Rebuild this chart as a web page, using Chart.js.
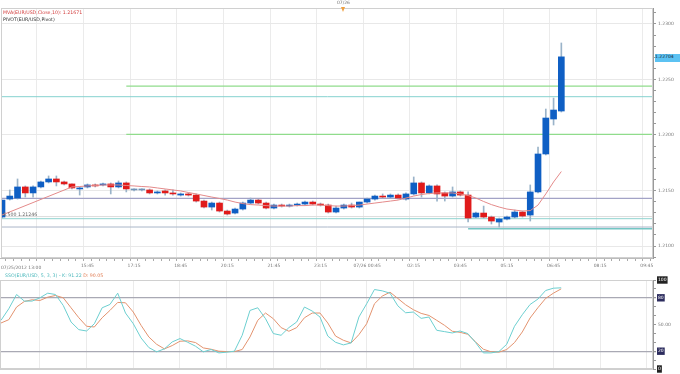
<!DOCTYPE html>
<html><head><meta charset="utf-8">
<script src="https://cdn.jsdelivr.net/npm/chart.js@4/dist/chart.umd.min.js"></script>
<style>
html,body{margin:0;padding:0;background:#fff;width:680px;height:374px;overflow:hidden}
#wrap{position:relative;width:680px;height:374px;font-family:"DejaVu Sans",sans-serif}
canvas{position:absolute;left:0}
.t{position:absolute;white-space:nowrap;line-height:1;font-size:4.7px}
</style></head><body>
<div id="wrap">
<canvas id="main" width="680" height="276" style="top:0"></canvas>
<canvas id="osc" width="680" height="104" style="top:270px"></canvas>
<div class="t" style="left:3px;top:11px;color:#d23c3c">MVA(EUR/USD,Close,10): 1.21671</div>
<div class="t" style="left:3px;top:18px;color:#333">PIVOT(EUR/USD,Pivot)</div>
<div class="t" style="left:1px;top:266px;color:#777;font-size:4.5px">07/25/2012 13:00</div>
<div class="t" style="left:3px;top:213px;color:#666">S.500 1.21246</div>
<div class="t" style="left:337px;top:1px;color:#777;font-size:4.5px">07/26</div>
<div style="position:absolute;left:341px;top:7px;width:0;height:0;border-left:2.5px solid transparent;border-right:2.5px solid transparent;border-top:5px solid #f0a040"></div>
<div class="t" style="left:655px;top:54px;width:25px;height:7px;background:#5cc2f2;color:#123;font-size:4.5px;padding-top:1px">1.22704</div>
<div class="t" style="left:5px;top:274px;font-size:4.7px"><span style="color:#4cb8bc">SSO(EUR/USD, 5, 3, 3) - K: 91.22</span> <span style="color:#e07a50">D: 90.05</span></div>
</div>
<script>
// ---- data (15-minute bars starting 07/25/2012 13:00) ----
const openP  = [1.21261,1.21423,1.21432,1.21532,1.21478,1.21532,1.21577,1.21604,1.21577,1.21559,
                1.21514,1.21532,1.21550,1.21550,1.21559,1.21532,1.21568,1.21505,1.21505,1.21505,
                1.21478,1.21496,1.21478,1.21459,1.21469,1.21459,1.21405,1.21351,1.21387,1.21315,
                1.21297,1.21333,1.21387,1.21414,1.21387,1.21342,1.21369,1.21360,1.21369,1.21378,
                1.21396,1.21378,1.21369,1.21306,1.21342,1.21369,1.21351,1.21396,1.21423,1.21450,
                1.21441,1.21459,1.21423,1.21469,1.21568,1.21478,1.21541,1.21478,1.21450,1.21487,
                1.21459,1.21261,1.21297,1.21261,1.21216,1.21243,1.21261,1.21306,1.21279,1.21487,
                1.21829,1.22144,1.22216];
const highP  = [1.21414,1.21505,1.21604,1.21541,1.21541,1.21586,1.21631,1.21631,1.21586,1.21559,
                1.21532,1.21559,1.21559,1.21568,1.21568,1.21586,1.21577,1.21514,1.21514,1.21514,
                1.21496,1.21505,1.21505,1.21478,1.21478,1.21469,1.21414,1.21396,1.21396,1.21324,
                1.21342,1.21396,1.21432,1.21423,1.21396,1.21378,1.21378,1.21378,1.21387,1.21405,
                1.21405,1.21387,1.21378,1.21360,1.21378,1.21387,1.21396,1.21432,1.21459,1.21469,
                1.21469,1.21469,1.21478,1.21622,1.21577,1.21550,1.21550,1.21487,1.21532,1.21496,
                1.21487,1.21306,1.21360,1.21270,1.21252,1.21270,1.21324,1.21315,1.21550,1.21892,
                1.22234,1.22333,1.22829];
const lowP   = [1.21252,1.21414,1.21423,1.21441,1.21441,1.21523,1.21568,1.21541,1.21550,1.21514,
                1.21459,1.21523,1.21532,1.21541,1.21469,1.21523,1.21487,1.21496,1.21496,1.21469,
                1.21469,1.21459,1.21459,1.21450,1.21450,1.21396,1.21342,1.21324,1.21306,1.21279,
                1.21288,1.21324,1.21378,1.21378,1.21333,1.21333,1.21351,1.21351,1.21360,1.21369,
                1.21369,1.21360,1.21297,1.21297,1.21333,1.21342,1.21342,1.21387,1.21414,1.21432,
                1.21432,1.21423,1.21414,1.21459,1.21441,1.21469,1.21405,1.21405,1.21441,1.21450,
                1.21216,1.21252,1.21252,1.21198,1.21171,1.21234,1.21252,1.21261,1.21225,1.21478,
                1.21820,1.22090,1.22207];
const closeP = [1.21414,1.21450,1.21532,1.21478,1.21532,1.21577,1.21604,1.21577,1.21559,1.21523,
                1.21523,1.21550,1.21541,1.21559,1.21532,1.21568,1.21514,1.21505,1.21505,1.21478,
                1.21487,1.21478,1.21469,1.21469,1.21459,1.21405,1.21351,1.21387,1.21315,1.21288,
                1.21333,1.21387,1.21414,1.21387,1.21342,1.21369,1.21360,1.21369,1.21378,1.21396,
                1.21378,1.21369,1.21306,1.21342,1.21369,1.21351,1.21396,1.21423,1.21450,1.21441,
                1.21459,1.21432,1.21469,1.21568,1.21478,1.21541,1.21469,1.21450,1.21487,1.21459,
                1.21252,1.21297,1.21261,1.21225,1.21243,1.21261,1.21306,1.21270,1.21487,1.21829,
                1.22153,1.22225,1.22704];
// 10-period moving average (first value, then from bar 9 onward)
const maBars   = [0, 9,10,11,12,13,14,15,16,17,18,19,20,21,22,23,24,25,26,27,28,29,30,31,32,33,34,35,36,37,38,39,40,41,42,43,44,45,46,47,48,49,50,51,52,53,54,55,56,57,58,59,60,61,62,63,64,65,66,67,68,69,70,71,72];
const maValues = [1.21279,1.21532,1.21536,1.21541,1.21545,1.21550,1.21550,1.21550,1.21545,1.21541,1.21536,1.21532,1.21523,1.21514,1.21505,1.21496,1.21482,1.21469,1.21455,1.21441,1.21428,1.21414,1.21396,1.21382,1.21373,1.21369,1.21364,1.21360,1.21360,1.21360,1.21364,1.21364,1.21369,1.21369,1.21364,1.21360,1.21360,1.21364,1.21369,1.21378,1.21387,1.21396,1.21405,1.21414,1.21432,1.21450,1.21464,1.21473,1.21478,1.21478,1.21478,1.21469,1.21455,1.21432,1.21401,1.21373,1.21351,1.21333,1.21324,1.21315,1.21319,1.21369,1.21469,1.21577,1.21671];
// pivot levels and the bar each starts from
const pivotLevels = [1.22441,1.22345,1.22006,1.21430,1.21265,1.21246,1.21171,1.21156];
const pivotStart  = [16,0,16,0,0,0,0,60];
// slow stochastic %K and %D
const stochK = [54.7,67.7,83.7,76.3,76.3,80.0,85.2,83.7,71.4,52.8,44.2,42.7,50.9,68.8,72.5,85.2,62.9,50.9,34.9,24.1,
                19.3,22.6,30.4,34.2,30.0,25.6,19.3,21.9,18.1,18.9,20.0,37.9,65.8,68.8,56.5,39.8,37.9,46.5,52.8,69.6,
                65.1,58.4,37.0,30.0,27.1,29.3,58.4,73.3,89.3,87.8,85.2,71.0,63.2,64.0,56.9,58.4,43.5,42.0,40.5,42.7,
                39.8,29.7,18.1,18.1,19.6,27.8,48.0,61.0,72.5,78.5,88.2,90.8,91.22];
const stochD = [51.7,55.4,69.6,75.9,77.8,77.0,80.7,82.6,80.0,68.8,57.6,48.0,47.2,57.6,65.8,74.8,74.4,64.0,49.1,36.0,
                27.8,22.6,26.3,31.2,31.6,29.7,23.7,22.2,20.0,19.6,19.6,21.9,36.0,54.7,62.9,56.5,46.5,42.4,46.5,57.6,
                62.9,62.9,51.7,37.0,32.3,29.3,38.6,50.9,73.3,81.9,86.3,79.3,72.2,66.6,62.5,60.2,54.7,49.1,42.4,41.2,
                39.0,30.4,22.2,19.3,18.9,21.9,29.7,41.6,57.3,68.8,79.3,85.2,90.05];
// axis labels
const priceTicks = [1.2100,1.2150,1.2200,1.2250,1.2300];
const timeTickBars   = [11,17,23,29,35,41,47,53,59,65,71,77,83];
const timeTickLabels = ['15:45','17:15','18:45','20:15','21:45','23:15','07/26 00:45','02:15','03:45','05:15','06:45','08:15','09:45'];
const stochTicks = [0,20,50,80,100];

// ---- rendering ----
const FONT = 'DejaVu Sans';
const X_MIN = -0.13, X_MAX = 83.8, LAST_TICK = 83;
const isMajorBar = v => (Math.round(v) - 5) % 6 === 0;
const BLUE = '#0f5fc4', RED = '#e01b1b', DOJI = '#6f93b8';
const PIVOT_COLORS = ['#90dc8c','#86d2cf','#90dc8c','#a3a3c6','#dcdcdc','#8fd3cf','#aab6c8','#74c6c4'];
const PIVOT_WIDTHS = [1.2,1,1.2,1.3,1,1,1,1.4];

const frame = {
  id: 'frame',
  afterDraw(chart) {
    const a = chart.chartArea, c = chart.ctx;
    c.save(); c.strokeStyle = '#d0d0d0'; c.lineWidth = 1;
    c.strokeRect(a.left + 0.5, a.top + 0.5, a.right - a.left - 1, a.bottom - a.top - 1);
    c.restore();
  }
};

const xScale = (showLabels) => ({
  type: 'linear', min: X_MIN, max: X_MAX, offset: false,
  afterBuildTicks: s => { const t = []; for (let i = 0; i <= LAST_TICK; i++) t.push({value: i}); s.ticks = t; },
  afterFit: s => { s.height = showLabels ? 18 : 0; },
  ticks: {
    display: showLabels, autoSkip: false, maxRotation: 0, minRotation: 0, padding: 2,
    color: '#777', font: {family: FONT, size: 4.5},
    callback: v => { const k = timeTickBars.indexOf(Math.round(v)); return k >= 0 ? timeTickLabels[k] : ''; }
  },
  grid: {
    color: c => (c.tick && isMajorBar(c.tick.value)) ? '#ebebeb' : 'rgba(0,0,0,0)',
    tickColor: '#aaa', tickLength: 3, drawTicks: showLabels
  },
  border: {display: showLabels, color: '#bbb'}
});

const barsX = closeP.map((_, i) => i);
const priceMin = 1.20892, priceMax = 1.23144;

new Chart(document.getElementById('main'), {
  type: 'bar',
  data: { datasets: [
    { type: 'line', order: 0, data: maBars.map((b, k) => ({x: b, y: maValues[k]})),
      borderColor: '#e48a8a', borderWidth: 1, pointRadius: 0, tension: 0, spanGaps: true },
    { type: 'bar', order: 1, grouped: false, barThickness: 6, minBarLength: 1,
      data: barsX.map(i => ({x: i, y: [openP[i], closeP[i]]})),
      backgroundColor: c => { const i = c.dataIndex; return closeP[i] > openP[i] ? BLUE : (closeP[i] < openP[i] ? RED : DOJI); },
      borderWidth: 0 },
    { type: 'bar', order: 2, grouped: false, barThickness: 1,
      data: barsX.map(i => ({x: i, y: [lowP[i], highP[i]]})),
      backgroundColor: '#9ab3c9', borderWidth: 0 },
    ...pivotLevels.map((lv, k) => ({
      type: 'line', order: 3, data: [{x: pivotStart[k], y: lv}, {x: X_MAX, y: lv}],
      borderColor: PIVOT_COLORS[k], borderWidth: PIVOT_WIDTHS[k], pointRadius: 0
    }))
  ]},
  options: {
    responsive: false, animation: false, devicePixelRatio: 1,
    layout: {padding: {top: 8, left: 0, right: 0, bottom: 0}},
    plugins: {legend: {display: false}, tooltip: {enabled: false}},
    scales: {
      x: xScale(true),
      y: {
        position: 'right', min: priceMin, max: priceMax,
        afterFit: s => { s.width = 27; },
        afterBuildTicks: s => { const t = []; for (let k = 1209; k <= 1231; k++) t.push({value: k / 1000}); s.ticks = t; },
        ticks: {
          autoSkip: false, padding: 2, color: '#777', font: {family: FONT, size: 4.5},
          callback: v => { const m = priceTicks.find(p => Math.abs(p - v) < 1e-7); return m !== undefined ? m.toFixed(4) : ''; }
        },
        grid: {
          color: c => (c.tick && priceTicks.some(p => Math.abs(p - c.tick.value) < 1e-7)) ? '#e8e8e8' : 'rgba(0,0,0,0)',
          tickColor: '#999', tickLength: 3
        },
        border: {color: '#999'}
      }
    }
  },
  plugins: [frame]
});

new Chart(document.getElementById('osc'), {
  type: 'line',
  data: { datasets: [
    { data: barsX.map(i => ({x: i, y: stochK[i]})), borderColor: '#6ccfd0', borderWidth: 1, pointRadius: 0, tension: 0 },
    { data: barsX.map(i => ({x: i, y: stochD[i]})), borderColor: '#e3936f', borderWidth: 1, pointRadius: 0, tension: 0 }
  ]},
  options: {
    responsive: false, animation: false, devicePixelRatio: 1,
    layout: {padding: {top: 10, left: 0, right: 0, bottom: 5}},
    plugins: {legend: {display: false}, tooltip: {enabled: false}},
    scales: {
      x: xScale(false),
      y: {
        position: 'right', min: 0, max: 100,
        afterFit: s => { s.width = 27; },
        afterBuildTicks: s => { const t = []; for (let v = 0; v <= 100; v += 10) t.push({value: v}); s.ticks = t; },
        ticks: {
          autoSkip: false, padding: 2, font: {family: FONT, size: 4.5},
          color: c => (c.tick && c.tick.value === 50) ? '#777' : '#fff',
          showLabelBackdrop: c => !!(c.tick && stochTicks.includes(c.tick.value) && c.tick.value !== 50),
          backdropColor: c => (c.tick && (c.tick.value === 0 || c.tick.value === 100)) ? '#222' : '#2c2c5e',
          backdropPadding: 1,
          callback: v => stochTicks.includes(v) ? (v === 50 ? '50.00' : String(v)) : ''
        },
        grid: {
          color: c => { const v = c.tick && c.tick.value; return (v === 20 || v === 80) ? '#a9a9b4' : (v === 0 || v === 100) ? '#cfcfcf' : 'rgba(0,0,0,0)'; },
          lineWidth: c => { const v = c.tick && c.tick.value; return (v === 20 || v === 80) ? 1.3 : 1; },
          tickColor: '#999', tickLength: 3
        },
        border: {color: '#999'}
      }
    }
  },
  plugins: [frame]
});
</script>
</body></html>
